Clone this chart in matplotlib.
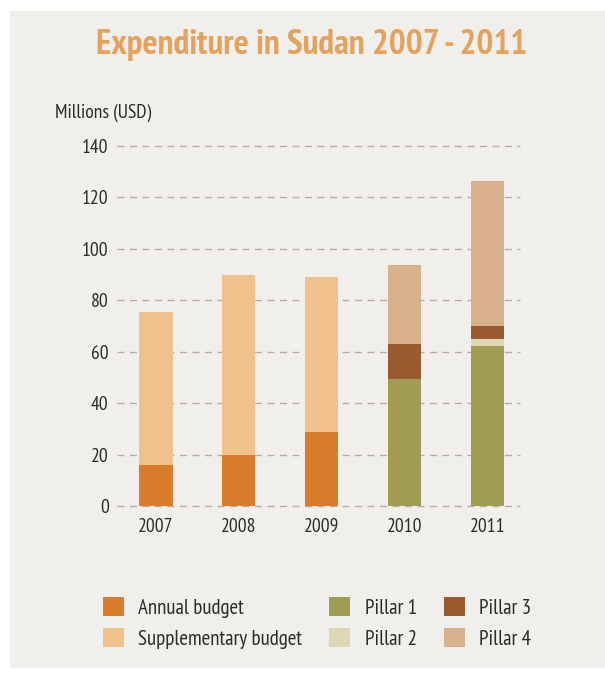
"""
Expenditure in Sudan 2007 - 2011, stacked bars.
"""
import matplotlib.pyplot as plt
from matplotlib.patches import Rectangle

plt.rcParams["font.family"] = ["PT Sans Narrow", "DejaVu Sans"]

years = ["2007", "2008", "2009", "2010", "2011"]
annual = [16, 20, 28.7, 0, 0]
supplementary = [59.5, 70, 60.3, 0, 0]
pillar1 = [0, 0, 0, 49.4, 62.3]
pillar2 = [0, 0, 0, 0, 2.7]
pillar3 = [0, 0, 0, 13.6, 5]
pillar4 = [0, 0, 0, 30.7, 56.5]

series = [
    ("Annual budget", annual, "#d97c2b"),
    ("Supplementary budget", supplementary, "#f0c18c"),
    ("Pillar 1", pillar1, "#a09c52"),
    ("Pillar 2", pillar2, "#dcd8b6"),
    ("Pillar 3", pillar3, "#995a2d"),
    ("Pillar 4", pillar4, "#d6b18c"),
]

paper = "#f1efeb"
text_col = "#2b2b2b"

fig = plt.figure(figsize=(6.05, 6.79), dpi=100, facecolor="white")
fig.patches.append(
    Rectangle((10 / 605, 11 / 679), 595 / 605, 657 / 679,
              transform=fig.transFigure, facecolor=paper, edgecolor="none", zorder=-10)
)

ax = fig.add_axes([117 / 605, 1 - 506 / 679, 403 / 605, 360 / 679])
ax.set_facecolor("none")

x = range(len(years))
bottom = [0] * len(years)
handles = []
for label, vals, col in series:
    b = ax.bar(x, vals, 0.4, bottom=bottom, color=col, label=label, zorder=3)
    handles.append(b)
    bottom = [bo + v for bo, v in zip(bottom, vals)]

ax.set_xlim(-0.47, 4.39)
ax.set_ylim(0, 140)
ax.set_yticks(range(0, 141, 20))
ax.set_xticks(list(x))
ax.set_xticklabels(years)
ax.yaxis.grid(True, color="#b8aaa6", linestyle=(0, (5, 4)), linewidth=1.0, zorder=0)
for gl in ax.yaxis.get_gridlines():
    gl.set_clip_on(False)
for s in ax.spines.values():
    s.set_visible(False)
ax.tick_params(length=0, labelsize=14, colors=text_col, pad=6)
ax.tick_params(axis="x", pad=9)

fig.text(312 / 605, 1 - 45 / 679, "Expenditure in Sudan 2007 - 2011", ha="center", va="center",
         fontsize=25.5, fontweight="bold", color="#e3a25d")
fig.text(55 / 605, 1 - 113 / 679, "Millions (USD)", ha="left", va="center",
         fontsize=14, color=text_col)

fig.legend(handles=handles, loc="center left", bbox_to_anchor=(84 / 605, 1 - 623 / 679),
           ncol=3, frameon=False, fontsize=15, handlelength=1.0, handleheight=1.0,
           handletextpad=0.7, columnspacing=1.3, labelspacing=0.5, labelcolor=text_col)

fig.savefig("out.png", dpi=100, facecolor=fig.get_facecolor())
